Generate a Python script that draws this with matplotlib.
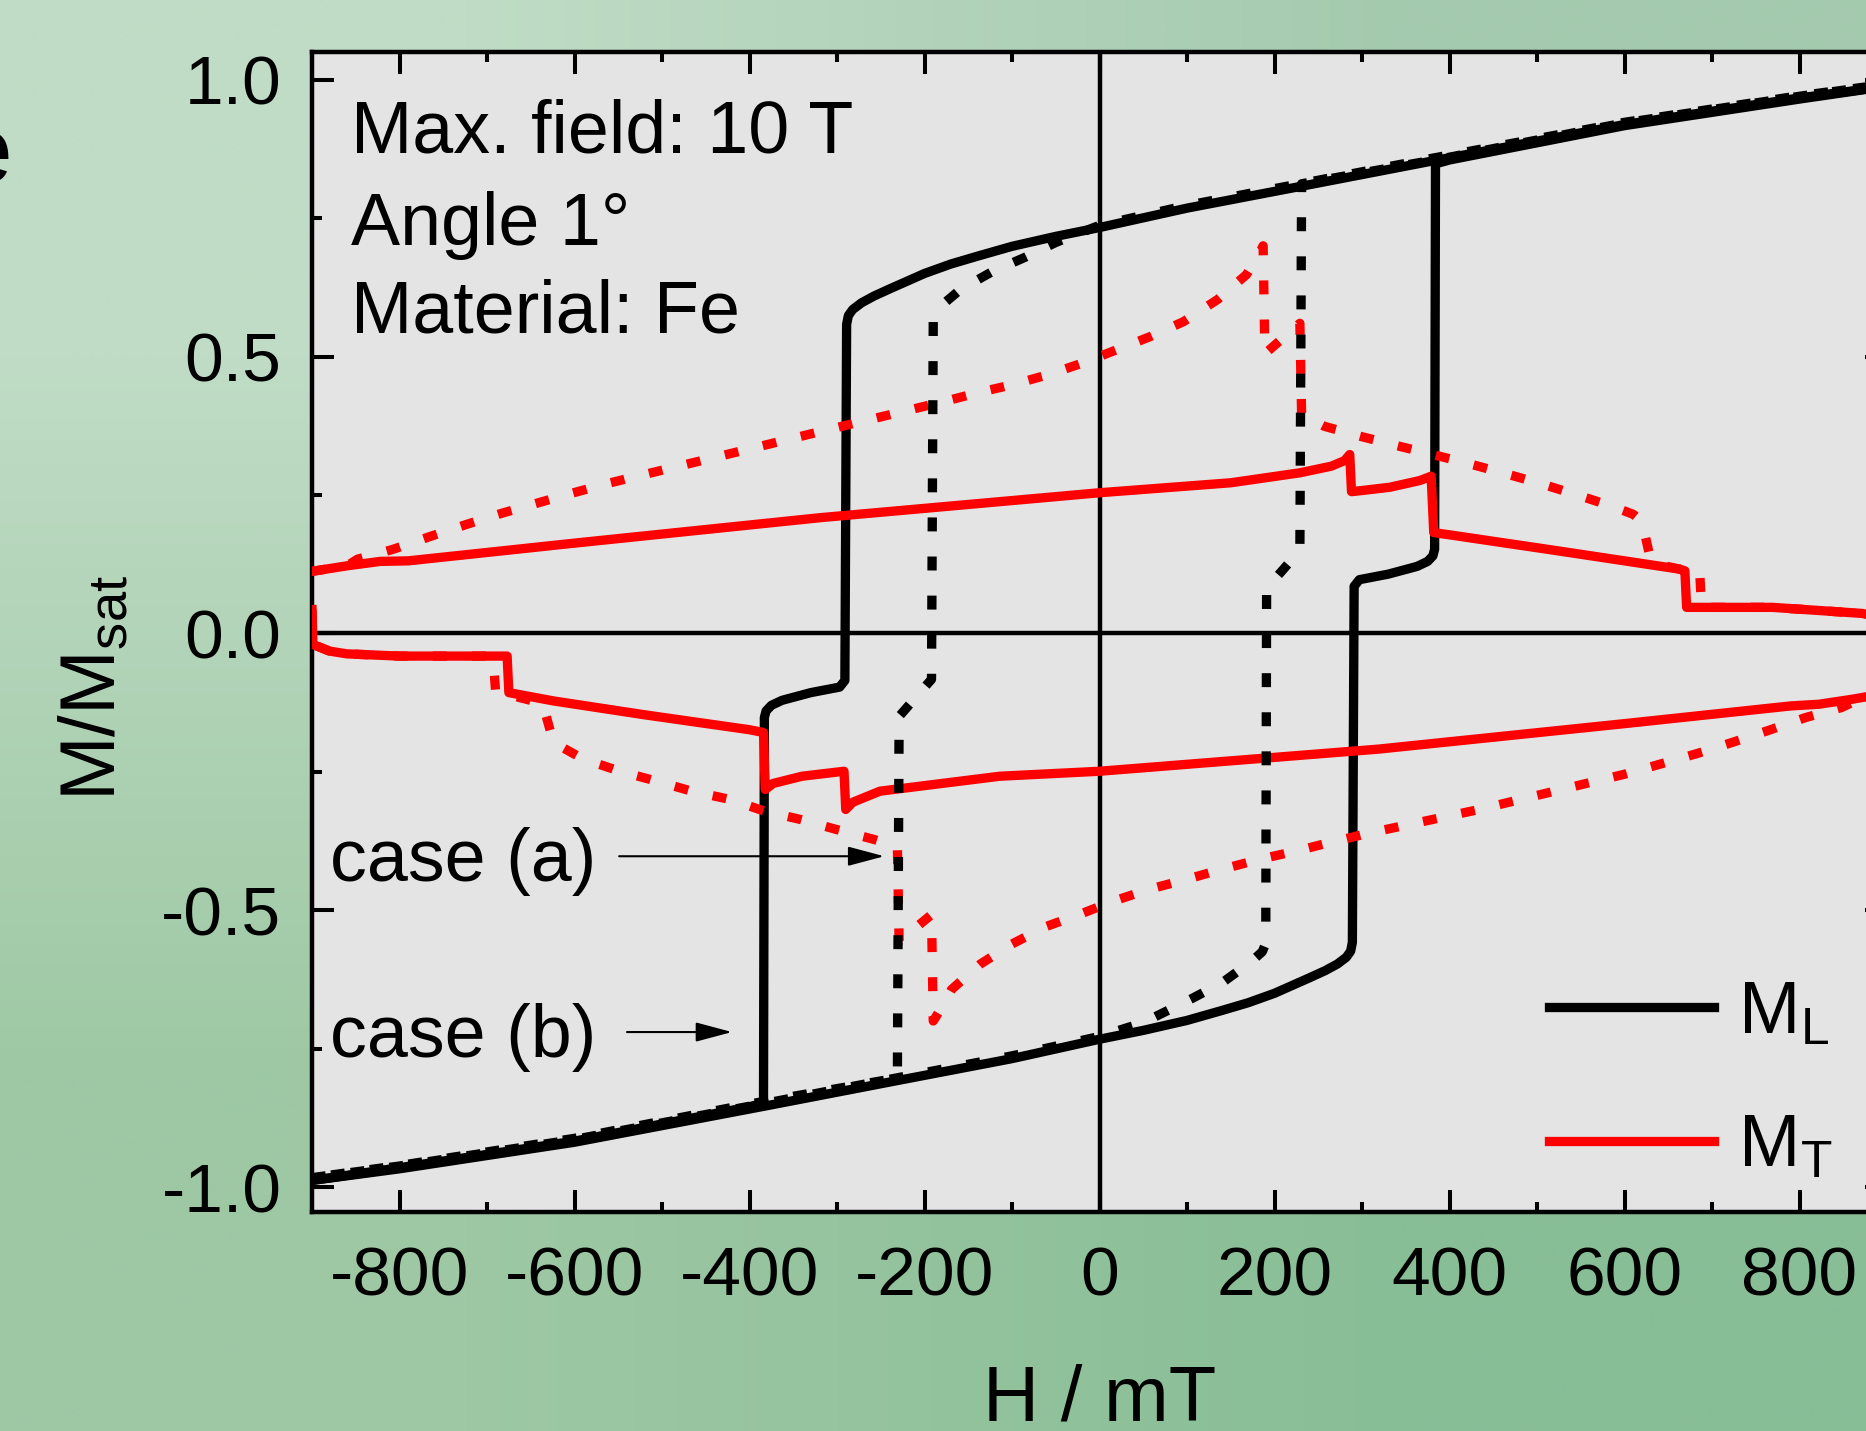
import numpy as np
import matplotlib
matplotlib.use('Agg')
import matplotlib.pyplot as plt
from matplotlib.ticker import MultipleLocator, FormatStrFormatter

plt.rcParams['font.family'] = ['Liberation Sans', 'DejaVu Sans']
plt.rcParams['mathtext.fontset'] = 'custom'
plt.rcParams['mathtext.rm'] = 'Liberation Sans'
plt.rcParams['mathtext.it'] = 'Liberation Sans:italic'
plt.rcParams['axes.unicode_minus'] = False

# M_L, solid (case b), field sweeping down then up
ml_down_h = [900, 800, 600, 380, 229, 100, 0, -50, -100, -140, -170, -200, -220, -240, -258, -272, -282, -287, -289,
             -291, -297, -330, -363, -375, -381, -383, -384, -400, -600, -800, -900]
ml_down_m = [0.988, 0.967, 0.919, 0.853, 0.807, 0.768, 0.733, 0.717, 0.699, 0.681, 0.667, 0.650, 0.636, 0.622, 0.609, 0.597, 0.585, 0.574, 0.558,
             -0.085, -0.097, -0.107, -0.121, -0.130, -0.140, -0.152, -0.848, -0.855, -0.917, -0.965, -0.988]
ml_up_h = [-900, -800, -600, -380, -229, -100, 0, 50, 100, 140, 170, 200, 220, 240, 258, 272, 282, 287, 289,
           291, 297, 330, 363, 375, 381, 383, 384, 400, 600, 800, 900]
ml_up_m = [-0.988, -0.967, -0.919, -0.853, -0.807, -0.768, -0.733, -0.717, -0.699, -0.681, -0.667, -0.650, -0.636, -0.622, -0.609, -0.597, -0.585, -0.574, -0.558,
           0.085, 0.097, 0.107, 0.121, 0.130, 0.140, 0.152, 0.848, 0.855, 0.917, 0.965, 0.988]

# M_L, dotted (case a)
mla_down_h = [900, 800, 600, 380, 229, 100, 0, -50, -84, -123, -159, -180, -190, -192, -202, -229, -231,
              -400, -600, -800, -900]
mla_down_m = [0.992, 0.971, 0.923, 0.858, 0.812, 0.773, 0.737, 0.706, 0.680, 0.653, 0.621, 0.593, 0.567, -0.083, -0.101, -0.150, -0.803,
              -0.850, -0.912, -0.961, -0.983]
mla_up_h = [-900, -800, -600, -380, -229, -100, 0, 50, 105, 141, 174, 186, 190, 191, 202, 229, 231,
            400, 600, 800, 900]
mla_up_m = [-0.983, -0.962, -0.914, -0.848, -0.802, -0.763, -0.728, -0.703, -0.660, -0.630, -0.592, -0.575, -0.560, 0.085, 0.101, 0.150, 0.812,
            0.860, 0.922, 0.970, 0.992]

# M_T, solid (case b)
mt_down_h = [-900, -860, -822, -790, -600, -319, 0, 150, 229, 265, 280, 286, 288, 300, 332, 366, 376, 379,
             382, 400, 520, 663, 669, 671, 769, 872, 888, 900]
mt_down_m = [0.112, 0.122, 0.130, 0.131, 0.163, 0.209, 0.254, 0.272, 0.290, 0.302, 0.312, 0.323, 0.256, 0.258, 0.264, 0.276, 0.282, 0.284,
             0.182, 0.178, 0.150, 0.116, 0.113, 0.047, 0.047, 0.036, 0.030, -0.040]
mt_up_h = [-900, -899, -880, -860, -800, -677, -675, -624, -520, -400, -384, -382, -373, -340, -292,
           -290, -282, -251, -114, 0, 319, 600, 790, 822, 860, 900]
mt_up_m = [0.043, -0.020, -0.032, -0.037, -0.041, -0.041, -0.107, -0.122, -0.147, -0.174, -0.179, -0.282, -0.271, -0.258, -0.249,
           -0.318, -0.305, -0.285, -0.258, -0.249, -0.209, -0.163, -0.131, -0.128, -0.119, -0.108]

# M_T, dotted (case a)
mta_down_h = [-900, -860, -848, -807, -765, -723, -683, -641, -601, -559, -434, -310, -182, -138, -100, -59, -18,
              58, 96, 135, 168, 184, 187, 189, 229, 231, 257, 298, 340, 381, 421, 463, 503, 544, 585, 610,
              620, 629, 640, 663, 686, 688, 769, 872, 888, 900]
mta_down_m = [0.112, 0.122, 0.134, 0.152, 0.175, 0.197, 0.217, 0.236, 0.254, 0.272, 0.320, 0.368, 0.417, 0.435, 0.449, 0.467, 0.489,
              0.536, 0.563, 0.603, 0.648, 0.690, 0.700, 0.505, 0.560, 0.395, 0.374, 0.356, 0.339, 0.323, 0.307, 0.289, 0.271, 0.251, 0.230, 0.215,
              0.202, 0.139, 0.124, 0.116, 0.110, 0.047, 0.047, 0.036, 0.030, -0.040]
mta_up_h = [-900, -899, -880, -860, -800, -700, -693, -690, -670, -640, -634, -624, -590, -548, -506, -466, -422,
            -383, -342, -301, -258, -231, -229, -192, -190, -186, -169, -136, -100, -62, -22, 17, 57, 100, 140,
            183, 225, 265, 310, 434, 559, 601, 641, 683, 723, 765, 807, 848, 860, 900]
mta_up_m = [0.043, -0.020, -0.032, -0.037, -0.041, -0.041, -0.045, -0.108, -0.113, -0.125, -0.140, -0.197, -0.227, -0.249, -0.267, -0.285, -0.300,
            -0.321, -0.336, -0.354, -0.372, -0.385, -0.556, -0.508, -0.700, -0.690, -0.643, -0.597, -0.561, -0.530, -0.507, -0.483, -0.462, -0.444, -0.426,
            -0.408, -0.393, -0.377, -0.360, -0.318, -0.270, -0.254, -0.236, -0.217, -0.197, -0.175, -0.152, -0.134, -0.125, -0.108]

info_lines = ['Max. field: 10 T', 'Angle 1°', 'Material: Fe']
info_y = [0.868, 0.702, 0.543]

W, H = 1866, 1431
fig = plt.figure(figsize=(W / 100, H / 100), dpi=100)

# green gradient background
bg = fig.add_axes([0, 0, 1, 1], zorder=-10)
grad = np.array([[[192, 220, 198], [164, 202, 174]],
                 [[158, 200, 164], [136, 190, 150]]]) / 255.0
bg.imshow(grad, aspect='auto', extent=[0, 1, 0, 1], interpolation='bilinear')
bg.set_axis_off()

ax = fig.add_axes([312 / W, 1 - 1212 / H, (1887 - 312) / W, (1212 - 52) / H])
ax.set_facecolor('#e4e4e4')
ax.set_xlim(-900, 900)
ax.set_ylim(-1.045, 1.05)

ax.axhline(0, color='k', lw=3.2, zorder=1)
ax.axvline(0, color='k', lw=3.2, zorder=1)

dots = (0, (1.5, 2.7))
lw = 6.7
l_ml, = ax.plot(ml_down_h, ml_down_m, color='k', lw=lw, zorder=3)
ax.plot(ml_up_h, ml_up_m, color='k', lw=lw, zorder=3)
l_mt, = ax.plot(mt_down_h, mt_down_m, color='#ff0000', lw=lw, zorder=4)
ax.plot(mt_up_h, mt_up_m, color='#ff0000', lw=lw, zorder=4)
ax.plot(mta_down_h, mta_down_m, color='#ff0000', lw=lw, ls=dots, zorder=5)
ax.plot(mta_up_h, mta_up_m, color='#ff0000', lw=lw, ls=dots, zorder=5)
ax.plot(mla_down_h, mla_down_m, color='k', lw=lw, ls=dots, zorder=6)
ax.plot(mla_up_h, mla_up_m, color='k', lw=lw, ls=dots, zorder=6)

for s in ax.spines.values():
    s.set_linewidth(3.2)

ax.xaxis.set_major_locator(MultipleLocator(200))
ax.xaxis.set_minor_locator(MultipleLocator(100))
ax.yaxis.set_major_locator(MultipleLocator(0.5))
ax.yaxis.set_minor_locator(MultipleLocator(0.25))
ax.yaxis.set_major_formatter(FormatStrFormatter('%.1f'))
ax.xaxis.set_major_formatter(FormatStrFormatter('%d'))
ax.tick_params(which='both', direction='in', top=True, right=True, width=2.9, labelsize=50)
ax.tick_params(which='major', length=16)
ax.tick_params(which='minor', length=7.5)
ax.tick_params(axis='y', pad=22)
ax.tick_params(axis='x', pad=24)

ax.set_xlabel('H / mT', fontsize=56)
ax.xaxis.set_label_coords(0.5, -0.131)
ax.set_ylabel(r'M/M$_\mathregular{sat}$', fontsize=56)
ax.yaxis.set_label_coords(-0.115, 0.452)

for txt, yy in zip(info_lines, info_y):
    ax.text(-855, yy, txt, fontsize=53, ha='left', va='baseline')

ax.text(-880, -0.448, 'case (a)', fontsize=53, ha='left', va='baseline')
ax.text(-880, -0.765, 'case (b)', fontsize=53, ha='left', va='baseline')
arrow = dict(arrowstyle='-|>,head_length=1.5,head_width=0.4', mutation_scale=15,
             lw=1.5, color='k', shrinkA=0, shrinkB=0)
ax.annotate('', xy=(-246, -0.4025), xytext=(-549, -0.4025), arrowprops=arrow)
ax.annotate('', xy=(-420, -0.72), xytext=(-540, -0.72), arrowprops=arrow)

ax.legend([l_ml, l_mt], [r'M$_\mathregular{L}$', r'M$_\mathregular{T}$'],
          loc='upper left', bbox_to_anchor=(1549 / W, 1 - 979 / H), bbox_transform=fig.transFigure,
          frameon=False, fontsize=53, handlelength=2.24, handletextpad=0.33,
          labelspacing=0.88, borderpad=0, borderaxespad=0)

# letter cut off at the left border
fig.text(13 / W, 1 - 182 / H, 'e', fontsize=68, ha='right', va='baseline')

fig.savefig('out.png', dpi=100)
